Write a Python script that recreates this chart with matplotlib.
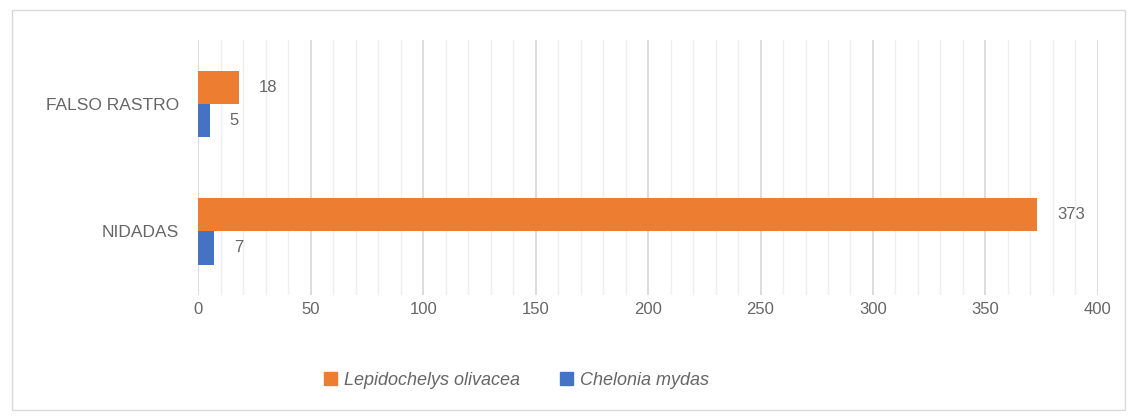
import matplotlib
matplotlib.use("Agg")
import matplotlib.pyplot as plt
from matplotlib.patches import Rectangle, Patch
from matplotlib.ticker import MultipleLocator
import numpy as np

# ── Data ──────────────────────────────────────────────────────────────────────
categories = ["NIDADAS", "FALSO RASTRO"]
lepidochelys = [373, 18]
chelonia = [7, 5]
series_names = ["Lepidochelys olivacea", "Chelonia mydas"]

ORANGE = "#ED7D31"
BLUE = "#4472C4"
TEXT = "#666666"

plt.rcParams["font.family"] = ["Liberation Sans", "DejaVu Sans"]

fig = plt.figure(figsize=(11.33, 4.18), dpi=100)
ax = fig.add_axes([0.175, 0.294, 0.794, 0.61])

y = np.arange(len(categories))
h = 0.26
b1 = ax.barh(y + h / 2, lepidochelys, height=h, color=ORANGE, zorder=3)
b2 = ax.barh(y - h / 2, chelonia, height=h, color=BLUE, zorder=3)

# value labels just right of each bar
for bars in (b1, b2):
    for rect in bars:
        w = rect.get_width()
        ax.text(w + 9, rect.get_y() + rect.get_height() / 2, f"{int(w)}",
                ha="left", va="center", fontsize=12, color=TEXT)

ax.set_xlim(0, 400)
ax.set_ylim(-0.5, 1.5)
ax.set_yticks(y)
ax.set_yticklabels(categories, fontsize=12.5, color=TEXT)
ax.xaxis.set_major_locator(MultipleLocator(50))
ax.xaxis.set_minor_locator(MultipleLocator(10))
ax.tick_params(axis="x", which="both", length=0, labelsize=12, labelcolor=TEXT, pad=5)
ax.tick_params(axis="y", length=0, pad=14)
ax.grid(True, axis="x", which="major", color="#d6d6d6", linewidth=1.2, zorder=0)
ax.grid(True, axis="x", which="minor", color="#efefef", linewidth=1.0, zorder=0)
for s in ax.spines.values():
    s.set_visible(False)

handles = [Patch(color=ORANGE), Patch(color=BLUE)]
leg = fig.legend(handles, series_names, loc="center", bbox_to_anchor=(0.456, 0.09),
                 ncol=2, frameon=False, handlelength=0.7, handleheight=0.7,
                 handletextpad=0.4, columnspacing=2.2,
                 prop={"style": "italic", "size": 13})
for t in leg.get_texts():
    t.set_color(TEXT)

# outer chart border
fig.patches.append(Rectangle((0.011, 0.02), 0.982, 0.955, transform=fig.transFigure,
                             fill=False, edgecolor="#d9d9d9", linewidth=1.0))

fig.savefig("out.png", dpi=100)
